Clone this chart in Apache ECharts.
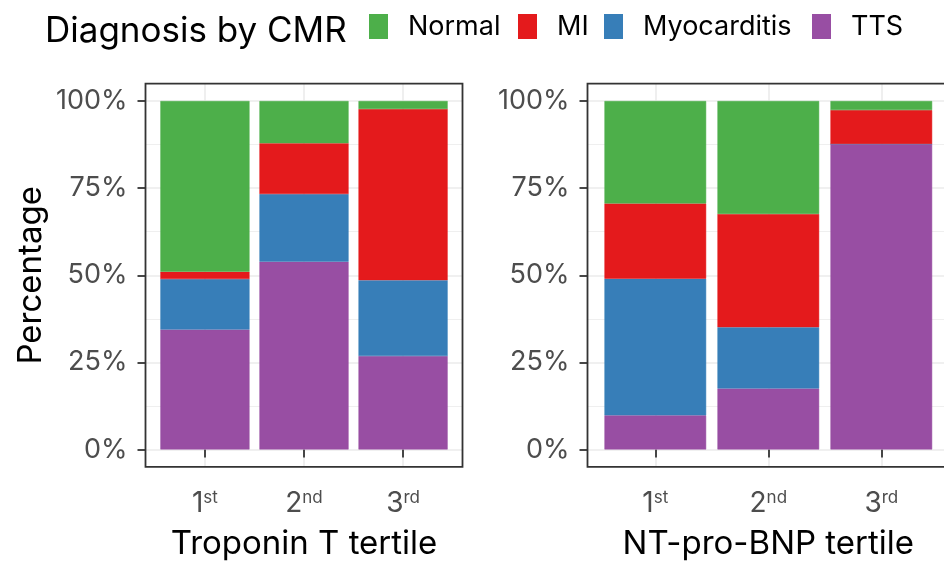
<!DOCTYPE html>
<html><head><meta charset="utf-8">
<script src="https://cdn.jsdelivr.net/npm/echarts@6/dist/echarts.min.js"></script>
<style>html,body{margin:0;padding:0;background:#fff}#c{width:944px;height:561px}</style>
</head><body><div id="c"></div>
<script>
// ---- data ----
const tertilePos = [1, 2, 3];
const tertileNum = ['1', '2', '3'];
const tertileSup = ['st', 'nd', 'rd'];
const legendOrder = ['Normal', 'MI', 'Myocarditis', 'TTS'];
const stackOrder = ['TTS', 'Myocarditis', 'MI', 'Normal'];
const palette = { Normal: '#4DAF4A', MI: '#E41A1C', Myocarditis: '#377EB8', TTS: '#984EA3' };

// Troponin T tertile (percent)
const tropTTS = [34.4, 53.9, 26.8];
const tropMyo = [14.5, 19.4, 21.8];
const tropMI = [2.1, 14.6, 49.1];
const tropNormal = [49.0, 12.1, 2.3];
// NT-pro-BNP tertile (percent)
const bnpTTS = [9.8, 17.5, 87.7];
const bnpMyo = [39.2, 17.6, 0];
const bnpMI = [21.6, 32.5, 9.7];
const bnpNormal = [29.4, 32.4, 2.6];

const yMajor = [0, 25, 50, 75, 100];
const yMinor = [12.5, 37.5, 62.5, 87.5];
const panelTitles = ['Troponin T tertile', 'NT-pro-BNP tertile'];

// ---- build ----
const FONT = 'Inter';
const panels = [
  { TTS: tropTTS, Myocarditis: tropMyo, MI: tropMI, Normal: tropNormal },
  { TTS: bnpTTS, Myocarditis: bnpMyo, MI: bnpMI, Normal: bnpNormal }
];
const gridBoxes = [
  { left: 145.5, width: 317, top: 83.6, height: 383.3 },
  { left: 587.5, width: 361.6, top: 83.6, height: 383.3 }
];
const legendX = [369, 518, 604, 812];

const grid = gridBoxes.map(b => Object.assign({}, b, {
  show: true, backgroundColor: 'transparent', borderColor: '#333333', borderWidth: 1.8, z: 10,
  containLabel: false, outerBoundsMode: 'none'
}));

const xAxis = panels.map((p, i) => ({
  type: 'value', gridIndex: i, min: 0.4, max: 3.6,
  axisLine: { show: false }, splitLine: { show: false },
  axisTick: { show: true, customValues: tertilePos, length: 8, lineStyle: { color: '#333333', width: 1.8 } },
  axisLabel: {
    customValues: tertilePos, margin: 22,
    formatter: v => { const k = Math.round(v) - 1; return '{n|' + tertileNum[k] + '}{s|' + tertileSup[k] + '}'; },
    rich: {
      n: { fontSize: 28, lineHeight: 30, color: '#4D4D4D', fontFamily: FONT },
      s: { fontSize: 17, lineHeight: 14, color: '#4D4D4D', fontFamily: FONT, verticalAlign: 'top' }
    }
  },
  name: panelTitles[i], nameLocation: 'middle', nameGap: 61,
  nameTextStyle: { fontSize: 33, color: '#000', fontFamily: FONT }
}));

const yAxis = panels.map((p, i) => ({
  type: 'value', gridIndex: i, min: -5, max: 105,
  axisLine: { show: false }, splitLine: { show: false },
  axisTick: { show: true, customValues: yMajor, length: 8, lineStyle: { color: '#333333', width: 1.8 } },
  axisLabel: { customValues: yMajor, formatter: '{value}%', fontSize: 27, color: '#4D4D4D', fontFamily: FONT, margin: 18 },
  name: i === 0 ? 'Percentage' : '', nameLocation: 'middle', nameGap: 98,
  nameTextStyle: { fontSize: 33, color: '#000', fontFamily: FONT }
}));

const series = [];
panels.forEach((p, i) => {
  const gl = [];
  yMajor.forEach(v => gl.push({ yAxis: v, lineStyle: { color: '#EBEBEB', width: 1.6, type: 'solid' } }));
  yMinor.forEach(v => gl.push({ yAxis: v, lineStyle: { color: '#EBEBEB', width: 0.8, type: 'solid' } }));
  tertilePos.forEach(v => gl.push({ xAxis: v, lineStyle: { color: '#EBEBEB', width: 1.6, type: 'solid' } }));
  series.push({
    type: 'line', xAxisIndex: i, yAxisIndex: i, data: [], z: 0, silent: true,
    markLine: { silent: true, symbol: ['none', 'none'], label: { show: false }, z: 0, animation: false, data: gl }
  });
  stackOrder.forEach(d => {
    series.push({
      type: 'bar', name: d, xAxisIndex: i, yAxisIndex: i, stack: 'panel' + i, barWidth: '90%', z: 2,
      itemStyle: { color: palette[d], borderColor: palette[d], borderWidth: 0.5 },
      // value first so the library stacks the percentage dimension
      dimensions: [{ name: 'pct', type: 'float' }, { name: 'tertile', type: 'float' }],
      encode: { x: 1, y: 0 },
      data: p[d].map((v, k) => [v, tertilePos[k]])
    });
  });
});

const legend = legendOrder.map((d, i) => ({
  data: [d], left: legendX[i], top: 13, padding: 0, itemWidth: 19, itemHeight: 25, icon: 'rect',
  selectedMode: false,
  itemStyle: { borderWidth: 0 },
  textStyle: { fontSize: 27, color: '#000', fontFamily: FONT, padding: [0, 0, 0, 15] }
}));

const chart = echarts.init(document.getElementById('c'));
chart.setOption({
  animation: false,
  backgroundColor: '#fff',
  title: { text: 'Diagnosis by CMR', left: 45, top: 14, padding: 0,
    textStyle: { fontSize: 35, fontWeight: 'normal', color: '#000', fontFamily: FONT } },
  legend, grid, xAxis, yAxis, series
});
</script></body></html>
